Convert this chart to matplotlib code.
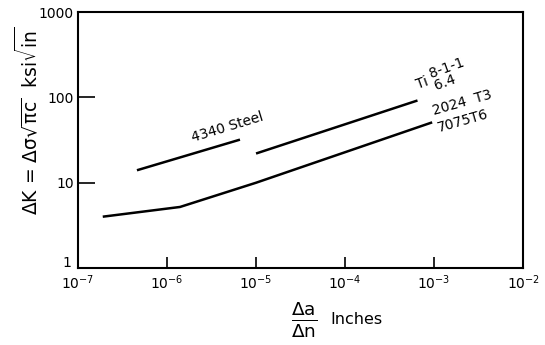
import matplotlib
matplotlib.use('Agg')
import matplotlib.pyplot as plt
import matplotlib.transforms as mtransforms
from matplotlib.ticker import FixedLocator, FixedFormatter, NullLocator

plt.rcParams['mathtext.default'] = 'regular'

# crack growth curves
steel_x = [4.6e-7, 6.6e-6]
steel_y = [14, 32]
ti_x = [1.0e-5, 6.5e-4]
ti_y = [22, 92]
al_x = [1.9e-7, 1.4e-6, 1.0e-5, 9.5e-4]
al_y = [4.0, 5.2, 10, 51]

xticks = [1e-7, 1e-6, 1e-5, 1e-4, 1e-3, 1e-2]
xlabels = ['$10^{-7}$', '$10^{-6}$', '$10^{-5}$', '$10^{-4}$', '$10^{-3}$', '$10^{-2}$']
yticks = [1, 10, 100, 1000]
ylabels = ['1', '10', '100', '1000']

fig = plt.figure(figsize=(5.45, 3.45), dpi=100)
ax = fig.add_axes([0.143, 0.223, 0.817, 0.742])

ax.plot(steel_x, steel_y, color='black', lw=1.8, solid_capstyle='butt')
ax.plot(ti_x, ti_y, color='black', lw=1.8, solid_capstyle='butt')
ax.plot(al_x, al_y, color='black', lw=1.8, solid_capstyle='butt')

ax.set_xscale('log')
ax.set_yscale('log')
ax.set_xlim(1e-7, 1e-2)
ax.set_ylim(1, 1000)
ax.xaxis.set_major_locator(FixedLocator(xticks))
ax.xaxis.set_major_formatter(FixedFormatter(xlabels))
ax.yaxis.set_major_locator(FixedLocator(yticks))
ax.yaxis.set_major_formatter(FixedFormatter(ylabels))
ax.xaxis.set_minor_locator(NullLocator())
ax.yaxis.set_minor_locator(NullLocator())
ax.tick_params(axis='x', direction='in', length=8, width=1.2, labelsize=10, pad=4)
ax.tick_params(axis='y', direction='in', length=12, width=1.2, labelsize=10, pad=3)
for s in ax.spines.values():
    s.set_linewidth(1.5)

# lift the "1" so it clears the 10^-7 label
lab1 = ax.yaxis.get_major_ticks()[0].label1
lab1.set_transform(lab1.get_transform() + mtransforms.ScaledTranslation(-0.02, 0.07, fig.dpi_scale_trans))

# curve labels
ax.text(4.8e-6, 45, '4340 Steel', rotation=17, fontsize=10, ha='center', va='center')
ax.text(7.3e-4, 148, 'Ti', rotation=20, fontsize=10, ha='center', va='center')
ax.text(1.4e-3, 221, '8-1-1', rotation=20, fontsize=10, ha='center', va='center')
ax.text(1.33e-3, 148, '6.4', rotation=20, fontsize=10, ha='center', va='center')
ax.text(2.07e-3, 86, '2024  T3', rotation=16, fontsize=10, ha='center', va='center')
ax.text(2.1e-3, 53, '7075T6', rotation=16, fontsize=10, ha='center', va='center')

ax.set_ylabel(r'$\Delta$K = $\Delta\sigma\sqrt{\pi c}$  ksi$\sqrt{in}$', fontsize=13.5)
ax.yaxis.set_label_coords(-0.082, 0.575)
fig.text(0.558, 0.072, r'$\frac{\Delta a}{\Delta n}$', fontsize=19, ha='center', va='center')
fig.text(0.606, 0.075, 'Inches', fontsize=11.5, ha='left', va='center')

fig.savefig('out.png', dpi=100)
